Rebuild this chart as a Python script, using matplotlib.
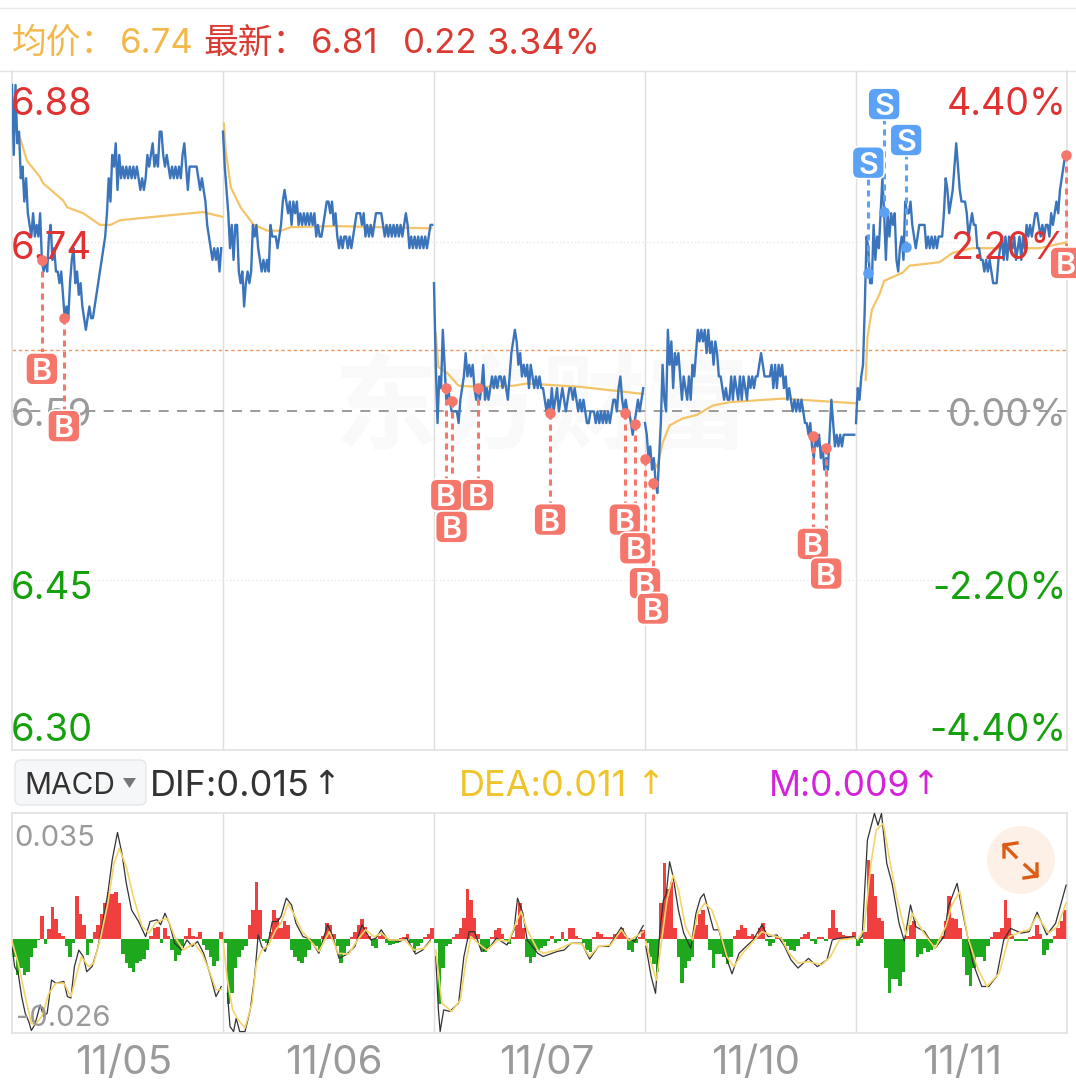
import numpy as np
import matplotlib
matplotlib.use("Agg")
import matplotlib.pyplot as plt
from matplotlib.patches import Circle, FancyBboxPatch, Polygon

plt.rcParams['font.family'] = ['Inter', 'Noto Sans CJK SC', 'DejaVu Sans']
plt.rcParams["axes.unicode_minus"] = False

# 分时价格，单位: 分，每 2 分钟一个点
price_day1 = [687, 681, 687, 682, 683, 679, 680, 677, 679, 676, 675, 674, 676, 674, 675, 674, 676, 672, 671, 672,
              671, 674, 675, 672, 673, 671, 671, 670, 671, 669, 667, 668, 667, 670, 672, 673, 670, 671, 669, 670,
              668, 667, 666, 667, 668, 667, 667, 668, 669, 670, 671, 672, 673, 674, 676, 679, 677, 681, 680, 682,
              678, 681, 679, 680, 679, 680, 679, 680, 679, 680, 679, 680, 679, 678, 679, 678, 679, 681, 680, 681,
              682, 680, 681, 680, 683, 683, 681, 680, 681, 680, 679, 680, 679, 680, 679, 680, 679, 681, 682, 680,
              678, 680, 680, 680, 680, 680, 679, 678, 679, 678, 677, 675, 674, 673, 672, 673, 672, 673, 671, 673]
price_day2 = [683, 680, 678, 676, 673, 675, 672, 675, 675, 671, 670, 671, 668, 670, 671, 670, 671, 675, 674, 675,
              673, 672, 671, 672, 671, 672, 671, 675, 674, 674, 674, 673, 674, 675, 677, 678, 677, 676, 677, 675,
              677, 676, 677, 675, 676, 675, 676, 675, 676, 675, 676, 675, 676, 674, 675, 674, 674, 675, 676, 677,
              677, 676, 677, 675, 676, 674, 673, 674, 673, 674, 674, 673, 674, 673, 674, 675, 676, 676, 676, 675,
              676, 674, 675, 674, 675, 674, 675, 676, 676, 676, 676, 675, 674, 675, 674, 675, 674, 675, 674, 675,
              674, 675, 674, 675, 676, 675, 673, 674, 673, 674, 673, 674, 673, 674, 673, 674, 673, 674, 675, 675]
price_day3 = [670, 663, 658, 662, 661, 666, 663, 660, 661, 660, 659, 659, 659, 659, 658, 660, 661, 662, 664, 662,
              663, 662, 663, 661, 660, 661, 660, 661, 663, 660, 661, 660, 661, 662, 661, 662, 661, 662, 662, 661,
              662, 661, 660, 662, 664, 665, 666, 665, 663, 664, 662, 663, 662, 663, 661, 663, 662, 661, 662, 661,
              662, 661, 661, 660, 659, 660, 659, 661, 659, 660, 661, 659, 660, 661, 660, 659, 660, 661, 661, 660,
              661, 660, 659, 660, 659, 660, 659, 658, 658, 659, 659, 659, 658, 659, 658, 659, 658, 659, 658, 659,
              658, 659, 660, 660, 659, 661, 662, 660, 659, 660, 659, 659, 658, 657, 658, 659, 660, 659, 660, 661]
price_day4 = [658, 657, 655, 656, 654, 655, 653, 652, 655, 658, 663, 660, 659, 666, 663, 665, 661, 664, 663, 664,
              662, 660, 662, 661, 660, 662, 660, 663, 662, 664, 666, 665, 666, 665, 666, 664, 666, 664, 665, 663,
              665, 664, 662, 662, 661, 660, 661, 660, 660, 662, 660, 662, 661, 660, 662, 660, 662, 661, 660, 662,
              661, 662, 661, 662, 662, 663, 664, 663, 662, 662, 662, 662, 663, 661, 663, 661, 663, 662, 663, 661,
              662, 660, 661, 660, 659, 660, 659, 660, 659, 660, 659, 658, 658, 657, 658, 656, 655, 657, 656, 657,
              655, 656, 654, 655, 654, 657, 660, 658, 656, 657, 656, 657, 656, 657, 657, 657, 657, 657, 657, 657]
price_day5 = [658, 661, 660, 662, 663, 668, 674, 673, 670, 670, 675, 672, 674, 673, 676, 679, 676, 672, 676, 674,
              676, 675, 676, 672, 671, 673, 674, 672, 677, 676, 676, 677, 675, 674, 673, 674, 675, 675, 675, 675,
              673, 674, 673, 674, 673, 674, 673, 674, 674, 674, 676, 679, 678, 676, 677, 678, 680, 682, 680, 678,
              677, 677, 677, 676, 674, 675, 676, 675, 675, 673, 673, 672, 672, 671, 672, 671, 672, 671, 670, 670,
              670, 672, 673, 674, 672, 674, 672, 674, 673, 673, 674, 672, 673, 674, 672, 674, 673, 675, 674, 675,
              674, 675, 676, 676, 675, 674, 675, 674, 675, 675, 674, 676, 675, 676, 677, 676, 678, 679, 680, 681]
prices = [price_day1, price_day2, price_day3, price_day4, price_day5]

# 均价线
avg_min_day1 = [3, 9, 17, 32, 35, 58, 63, 81, 100, 112, 123, 176, 217, 239]
avg_day1 = [6.831, 6.825, 6.805, 6.791, 6.786, 6.771, 6.765, 6.760, 6.750, 6.750, 6.754, 6.758, 6.761, 6.757]
avg_min_day2 = [1, 3, 9, 20, 35, 51, 66, 77, 126, 237]
avg_day2 = [6.837, 6.814, 6.782, 6.765, 6.750, 6.745, 6.745, 6.748, 6.749, 6.747]
avg_min_day3 = [2, 5, 15, 28, 53, 90, 106, 167, 238]
avg_day3 = [6.657, 6.628, 6.623, 6.612, 6.611, 6.612, 6.614, 6.611, 6.605]
avg_min_day4 = [6, 14, 20, 28, 43, 59, 77, 97, 157, 239]
avg_day4 = [6.551, 6.542, 6.563, 6.578, 6.584, 6.587, 6.595, 6.598, 6.601, 6.597]
avg_min_day5 = [11, 13, 18, 27, 32, 53, 61, 95, 110, 132, 209, 239]
avg_day5 = [6.617, 6.653, 6.677, 6.691, 6.702, 6.709, 6.715, 6.718, 6.726, 6.730, 6.730, 6.735]
avg_mins = [avg_min_day1, avg_min_day2, avg_min_day3, avg_min_day4, avg_min_day5]
avgs = [avg_day1, avg_day2, avg_day3, avg_day4, avg_day5]

# 买卖点
buy_min = [34, 59, 494, 500, 530, 612, 697, 709, 720, 729, 911, 926, 1199]
buy_price = [6.720, 6.670, 6.610, 6.599, 6.610, 6.589, 6.589, 6.579, 6.549, 6.529, 6.569, 6.559, 6.81]
sell_min = [974, 992, 1017]
sell_price = [6.709, 6.761, 6.731]

# MACD 柱，单位 0.001，每 4 分钟一根
hist_day1 = [-5, -10, -8, -10, -9, -5, -2.5, -0.3, 6.5, -1.4, 2.8, 9, 5.5, 1.8, 0.8, -2, -5, -1, 12, 7,
             4, -4.5, -1, 2, 4, 7, 10, 13, 12.5, 13, 10, -4, -6.5, -8, -9, -6.5, -6, -5.5, -3, 1,
             3, 3.5, -1, 3, 1, -3, -6, -4.5, -2, 1, 3, 1, 0.5, 2, -1.5, -3, -5, -7.5, -6, 2]
hist_day2 = [-1, -18, -15, -8, -5, -3, -2, 4, 8, 16, 8, -0.5, -1, 2, 8, 6, 3, 5, 4, -3,
             -5, -6, -6.5, -5, -3, -1, -2, -3, 1, 4.5, 4, 1.5, -2, -6.5, -4, -2, 0.5, 2, 4, 5.5,
             3.5, 1, -2, -2.5, 1, 1.5, -1, -1.5, -1.2, -1, 0.3, 0.5, 1.4, -1, -3.5, -2, -1, 0.5, 1.5, 3]
hist_day3 = [-1, -18, -8, -2, -1.4, 0.5, 1.4, 3, 6, 14, 11, 6, 1.5, -3, -3.5, -2.8, 0.5, 2.5, 3, 1.5,
             -0.5, -1.4, 0.5, 4, 10, 3, -5, -6.5, -5, -3, -2.5, -2, -0.5, 1, -1, -0.5, 2, -0.5, 3, 3,
             1, 0.3, -1, -3, -3.5, 0.5, 2, 1.5, 0.5, 0.5, 0.5, 1.5, 2, 3, 1, -3, -3.5, -1, 0.5, 2.5]
hist_day4 = [-1, -5, -7, -9, 10, 21, 14, 16, 3, -5, -12, -8, -6, -5, 4, 7, 8, 4, -3, -8,
             -4, -4, -5, -7, -5, 1, 2.5, 4, 3, 1, 1.4, 1, 3, 4.5, -0.5, -2, -1, 0.7, 0.5, -0.7,
             -2, -3, -3.2, -2, 0.5, 1.4, 2, -0.5, -1.4, 0.5, 0.7, -0.5, 3, 8, 3, 2, 1.2, 0.8, 1, 2]
hist_day5 = [-2, -1, 2, 22, 18, 12, 6, 5, -8, -15, -11, -11, -13, -9, 1, 4, 5, -5, -4, -2.5,
             -3.5, -3, -1.5, -0.5, 1, 5, 12, 6, 5.5, 3, -5, -10, -13, -8, -5, -5, -6, -2, 0.5, 2,
             2, 3, 11, 6, 1.5, -0.5, -0.5, -0.5, -0.5, 0.5, 1, 4, 1.5, -4.5, -3, -1, 1, 3, 5, 8]
hists = [hist_day1, hist_day2, hist_day3, hist_day4, hist_day5]

# DIF 线
dif_min_day1 = [0, 3, 7, 11, 15, 19, 22, 26, 29, 32, 36, 40, 45, 50, 59, 63, 67, 71, 76, 81, 85, 91, 97, 103, 109,
                114, 120, 125, 130, 136, 144, 152, 157, 165, 169, 174, 179, 185, 193, 199, 205, 211, 218, 226, 232, 238]
dif_day1 = [-2, -7.6, -9.4, -15.9, -20.5, -22.8, -25.3, -23.7, -21, -18.2, -21.4, -20.5, -11.3, -12.2, -11.7, -15.9,
            -16.3, -7.6, -3, -4.8, -9, -7.6, -3, 4.4, 12.7, 22, 29.6, 23.8, 15.5, 8.1, 4.9, 0.7, 4.9, 5.4, 4, 7.2,
            4.4, -1.1, -3, -0.2, -2, -0.6, -3.9, -10.3, -15.9, -13.1]
dif_min_day2 = [5, 8, 12, 15, 19, 25, 31, 36, 40, 44, 48, 52, 56, 62, 66, 72, 78, 83, 91, 99, 109, 119, 125, 132, 140,
                150, 158, 168, 174, 180, 187, 201, 209, 219, 227, 236]
dif_day2 = [-15, -24.2, -25.6, -21.9, -25.6, -25.6, -19.6, -10.3, 1.2, -2, -3.4, -0.2, 4.9, 4.9, 6.3, 11.4, 9.5, 4.4,
            0.7, 0.1, -3.9, 4, 0.7, -5.3, -4.3, -2, 4, -0.2, 0.3, 2.6, 0, -0.6, 0.3, -4.1, -3, -0.2]
dif_min_day3 = [2, 5, 7, 11, 18, 28, 34, 40, 46, 54, 64, 71, 83, 91, 95, 101, 106, 118, 124, 140, 148, 156, 168, 177,
                187, 199, 213, 220, 228, 238]
dif_day3 = [-4.8, -19.6, -25.6, -19.6, -20, -17.7, -4.8, 2.1, 2.1, -3.4, -2, 0.3, -1.6, 2.6, 11.4, 7.2, -0.2, -3.9,
            -4.8, -3.4, -3, -1.1, -1.1, -5.5, -2, -2, 3.3, 0.3, -0.6, 3.8]
dif_min_day4 = [1, 7, 12, 17, 21, 24, 28, 32, 38, 44, 52, 58, 63, 67, 72, 78, 84, 92, 99, 107, 115, 123, 133, 140, 150,
                158, 166, 174, 186, 196, 207, 213, 221, 238]
dif_day4 = [-2, -10.3, -15, 2.6, 10.9, 12.3, 21.5, 17.3, 8.1, 1.7, -2.5, 7.2, 11.4, 12.6, 8.1, 2.6, 2.6, -4.8, -9.6,
            -3.9, -2, -0.2, 4, 0.7, 1.2, -1.6, -5.7, -8, -5.3, -7.6, -5.7, -0.2, 0.3, 0.7]
dif_min_day5 = [2, 7, 13, 21, 25, 29, 35, 41, 49, 55, 62, 68, 78, 90, 100, 105, 115, 123, 133, 143, 151, 160, 168, 176,
                188, 197, 206, 217, 227, 239]
dif_day5 = [-0.2, 0.7, 27.5, 34.9, 31.6, 34.9, 21, 15.5, 4.4, -0.6, 9.5, 3.5, 2.1, -2.5, 0.7, 9, 15.5, 5.4, -6.6,
            -13.1, -13.1, -10.3, -0.2, 3, 1.7, 2.1, 7.5, 1.2, 4.4, 15]
dif_mins = [dif_min_day1, dif_min_day2, dif_min_day3, dif_min_day4, dif_min_day5]
difs = [dif_day1, dif_day2, dif_day3, dif_day4, dif_day5]

# DEA 线
dea_min_day1 = [0, 7, 15, 22, 26, 34, 42, 50, 59, 67, 73, 79, 87, 93, 101, 109, 116, 122, 130, 138, 148, 156, 163, 171,
                177, 185, 195, 207, 216, 224, 232, 238]
dea_day1 = [-0.6, -6.6, -15.9, -23.3, -23.7, -21.4, -15, -12.2, -12.2, -15.9, -10.3, -4.8, -7.6, -6.6, 0.7, 10, 21,
            25.2, 20.1, 11.8, 3.5, 1.7, 4.4, 5.4, 5.8, 0.7, -3, -1.1, -3.9, -8.5, -14, -14]
dea_min_day2 = [0, 5, 11, 17, 25, 33, 38, 44, 52, 60, 66, 74, 82, 90, 99, 109, 121, 131, 143, 153, 162, 172, 180, 189,
                207, 217, 229, 236]
dea_day2 = [-0.2, -11.3, -19.6, -22.3, -24.6, -17.7, -6.6, -3, -1.6, 2.6, 4.4, 10, 6.3, 2.1, -0.2, -3.4, 2.1, -3.9,
            -4.1, -0.2, 2.6, 0.7, 1.7, -0.2, -0.2, -3, -2.5, -0.6]
dea_min_day3 = [2, 9, 20, 30, 36, 42, 50, 60, 73, 85, 93, 99, 106, 118, 124, 140, 156, 168, 177, 187, 201, 213, 222, 238]
dea_day3 = [-3, -17.7, -20, -16.8, -6.6, 0.7, -1.1, -3, -0.2, -0.6, 4.4, 7.7, 2.6, -3, -3.9, -3, -1.1, -1.3, -4.8, -2,
            -1.6, 2.6, -0.4, 2.1]
dea_min_day4 = [1, 7, 13, 19, 25, 32, 38, 46, 54, 60, 68, 76, 85, 93, 101, 111, 123, 133, 143, 155, 164, 174, 186, 201,
                211, 221, 238]
dea_day4 = [-0.6, -6.6, -11.3, -0.2, 10.9, 17.8, 13.7, 3.5, -0.2, 7.2, 10, 8.1, 2.1, -4.8, -7.6, -3.9, -0.6, 2.1, 1.2,
            0.3, -3.9, -6.6, -6.2, -7.1, -4.8, -0.2, 0.3]
dea_min_day5 = [2, 9, 17, 23, 31, 39, 47, 57, 64, 76, 90, 102, 109, 118, 127, 139, 149, 163, 174, 188, 197, 206, 219,
                229, 239]
dea_day5 = [-0.2, 2.6, 21, 30.3, 32.1, 21, 10.9, 1.2, 7.2, 2.1, -2.5, 3.5, 9.5, 13.2, 0.7, -8.5, -13.1, -9.4, 0.7, 2.1,
            2.6, 6.6, 1.7, 3.5, 10]
dea_mins = [dea_min_day1, dea_min_day2, dea_min_day3, dea_min_day4, dea_min_day5]
deas = [dea_day1, dea_day2, dea_day3, dea_day4, dea_day5]

date_labels = ["11/05", "11/06", "11/07", "11/10", "11/11"]
date_ticks = [127, 366, 608, 846, 1081]
price_labels = ["6.88", "6.74", "6.59", "6.45", "6.30"]
pct_labels = ["4.40%", "2.20%", "0.00%", "-2.20%", "-4.40%"]

# 样式
W, H = 1076, 1088
RED = "#e03232"
GREEN = "#17a00e"
GRAY = "#9a9a9a"
GRID = "#dedede"
BUY = "#f5766a"
SELL = "#5ba2f6"
DAY = 240

# 买卖标签和点的像素距离
buy_drop = [109, 108, 107, 126, 107, 107, 107, 124, 124, 126, 108, 126, 108]
sell_rise = [110, 108, 107]


def px_axes(z):
    # 整张图大小的透明坐标系，单位是像素
    a = fig.add_axes([0, 0, 1, 1], zorder=z)
    a.patch.set_visible(False)
    a.set_xlim(0, W)
    a.set_ylim(H, 0)
    a.axis("off")
    return a


def label(a, x, y, s, color, size, ha="left", **kw):
    a.text(x, y, s, color=color, fontsize=size, ha=ha, va="center", **kw)


fig = plt.figure(figsize=(W / 100, H / 100), dpi=100, facecolor="white")

chrome = px_axes(0)
chrome.plot([0, W], [8, 8], color="#e8e8e8", lw=1)
chrome.plot([0, W], [71, 71], color="#e4e4e4", lw=1)
chrome.text(542, 410, "东方财富", color="#f9f9f9", fontsize=75, fontweight="bold", ha="center", va="center",
            family=["Noto Sans CJK SC"])

# 顶部行情
label(chrome, 12, 43, "均价：", "#f2b84b", 25, family=["Noto Sans CJK SC"])
label(chrome, 120, 44, "6.74", "#f2b84b", 25)
label(chrome, 203, 43, "最新：", "#d93a32", 25, family=["Noto Sans CJK SC"])
label(chrome, 311, 44, "6.81", "#d93a32", 25)
label(chrome, 403, 44, "0.22", "#d93a32", 25)
label(chrome, 487, 44, "3.34%", "#d93a32", 26)

# MACD 标题行
chrome.add_patch(FancyBboxPatch((15, 760), 131, 45, boxstyle="round,pad=0,rounding_size=6",
                                fc="#f6f7f8", ec="#e4e6e8", lw=1))
label(chrome, 24, 786, "MACD", "#333333", 21.5)
chrome.add_patch(Polygon([[123, 778], [136, 778], [129.5, 788]], fc="#777777", ec="none"))
label(chrome, 150, 786, "DIF:0.015", "#333333", 26)
label(chrome, 312, 785, "↑", "#333333", 24, family=["DejaVu Sans"])
label(chrome, 459, 786, "DEA:0.011", "#f0c428", 26)
label(chrome, 636, 785, "↑", "#f0c428", 24, family=["DejaVu Sans"])
label(chrome, 769, 786, "M:0.009", "#d424da", 25.5)
label(chrome, 911, 785, "↑", "#d424da", 24, family=["DejaVu Sans"])

# 价格区
ax = fig.add_axes([12 / W, 1 - 749.5 / H, 1055 / W, 678.5 / H], zorder=1)
ax.patch.set_visible(False)
ax.set_xlim(0, DAY * 5)
ax.set_ylim(6.30, 6.882)
ax.set_xticks([])
ax.set_yticks([])
for name, sp in ax.spines.items():
    sp.set_color("#e2e2e2")
    sp.set_linewidth(1.2)
    sp.set_visible(name != "top")

for d in range(1, 5):
    ax.axvline(DAY * d, color=GRID, lw=1)
ax.axhline(6.735, color="#e6e6e6", lw=0.9, ls=(0, (1, 2)))
ax.axhline(6.445, color="#e6e6e6", lw=0.9, ls=(0, (1, 2)))
ax.axhline(6.59, color="#8a8a8a", lw=1.2, ls=(0, (6, 5)))
ax.axhline(6.643, color="#ea9a62", lw=1, ls=(0, (2.5, 2)))

for d in range(5):
    ax.plot(DAY * d + np.array(avg_mins[d]), avgs[d], color="#f4c469", lw=1.6, zorder=3)
    day_x = DAY * d + 2 * np.arange(len(prices[d]))
    ax.plot(day_x, np.array(prices[d]) / 100, color="#3b74ba", lw=1.7, zorder=4, solid_joinstyle="round")

# MACD 区
ax2 = fig.add_axes([12 / W, 1 - 1033 / H, 1055 / W, 220 / H], zorder=1)
ax2.patch.set_visible(False)
ax2.set_xlim(0, DAY * 5)
ax2.set_ylim(-0.026, 0.035)
ax2.set_yticks([])
ax2.set_xticks(date_ticks)
ax2.set_xticklabels(date_labels, fontsize=29, color=GRAY)
ax2.tick_params(axis="x", length=0, pad=9)
for sp in ax2.spines.values():
    sp.set_color("#e2e2e2")
    sp.set_linewidth(1.2)

for d in range(1, 5):
    ax2.axvline(DAY * d, color=GRID, lw=1)

for d in range(5):
    vals = np.array(hists[d]) / 1000
    bar_x = DAY * d + 4 * np.arange(len(vals)) + 2
    ax2.bar(bar_x, vals, width=4, color=np.where(vals > 0, "#f03f3f", "#1da81d"), linewidth=0, zorder=2)
    ax2.plot(DAY * d + np.array(dif_mins[d]), np.array(difs[d]) / 1000, color="#333333", lw=0.9, zorder=3)
    ax2.plot(DAY * d + np.array(dea_mins[d]), np.array(deas[d]) / 1000, color="#f3d56a", lw=1.2, zorder=4)

# 坐标文字压在曲线上面
texts = px_axes(2)
label_y = [105, 249, 416, 589, 731]
label_col = [RED, RED, GRAY, GREEN, GREEN]
for s, p, y, c in zip(price_labels, pct_labels, label_y, label_col):
    label(texts, 11, y, s, c, 27.5)
    label(texts, 1067, y, p, c, 27, ha="right")
label(texts, 14, 839, "0.035", GRAY, 21)
label(texts, 16, 1018, "-0.026", GRAY, 21)

# 买卖点在最上面
marks = fig.add_axes(ax.get_position().bounds, zorder=3, sharex=ax, sharey=ax)
marks.patch.set_visible(False)
marks.axis("off")
marks.scatter(buy_min, buy_price, s=58, color=BUY, linewidths=0, clip_on=False)
marks.scatter(sell_min, sell_price, s=58, color=SELL, linewidths=0)

top = px_axes(4)


def badge(xm, p, offset, s, col):
    px, py = ax.transData.transform((xm, p))
    x0, y0 = px, H - py
    y1 = y0 + offset
    top.plot([x0, x0], [y0, y1], color=col, lw=2.2, ls=(0, (2, 1.6)), zorder=1, clip_on=False)
    top.add_patch(FancyBboxPatch((x0 - 16, y1 - 16), 32, 32, boxstyle="round,pad=0,rounding_size=7",
                                 fc=col, ec="white", lw=1.2, zorder=2, clip_on=False))
    top.text(x0, y1, s, color="white", fontsize=22, fontweight="semibold", ha="center", va="center_baseline",
             zorder=3, clip_on=True)


for m, p, dy in zip(buy_min, buy_price, buy_drop):
    badge(m, p, dy, "B", BUY)
for m, p, dy in zip(sell_min, sell_price, sell_rise):
    badge(m, p, -dy, "S", SELL)

# 右上角放大按钮
top.add_patch(Circle((1021, 860), 34, fc="#fdf0e7", ec="none"))
top.plot([1004, 1016], [845, 857], color="#dc5c16", lw=2.4)
top.plot([1004, 1004, 1017], [857, 845, 843], color="#dc5c16", lw=2.4)
top.plot([1025, 1037], [865, 876], color="#dc5c16", lw=2.4)
top.plot([1024, 1037, 1037], [878, 876, 864], color="#dc5c16", lw=2.4)

fig.savefig("out.png", dpi=100)
